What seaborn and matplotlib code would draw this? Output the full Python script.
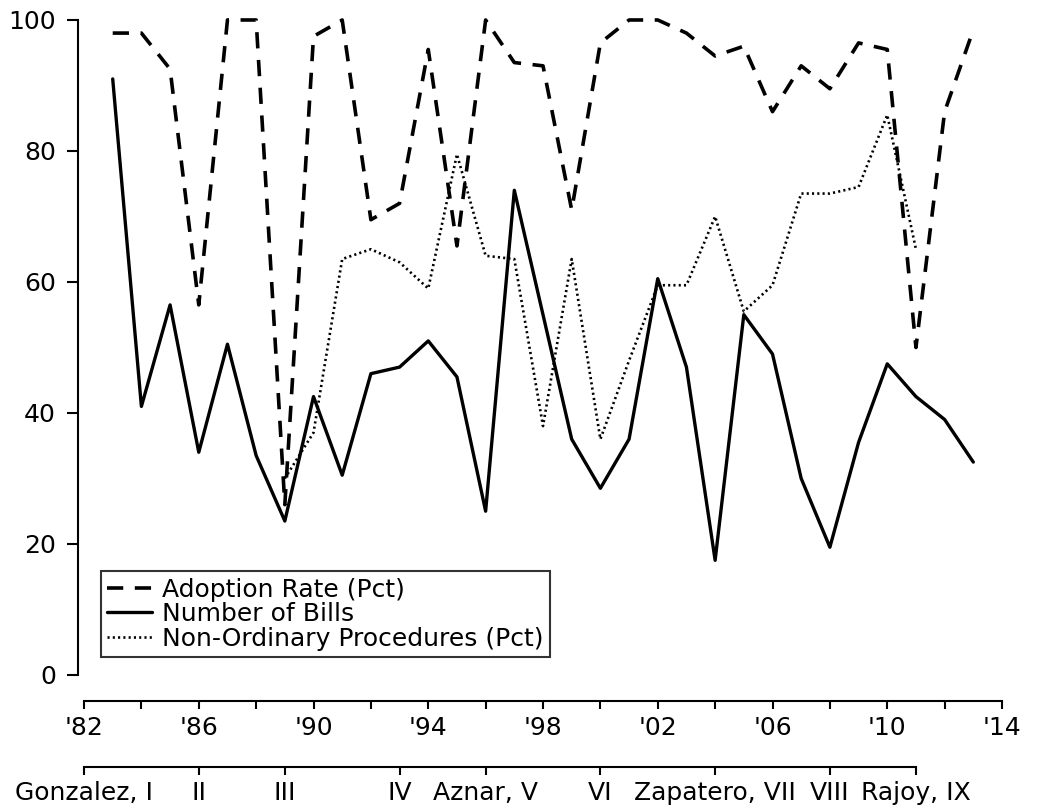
import numpy as np
import pandas as pd
import matplotlib
matplotlib.use("Agg")
import matplotlib.pyplot as plt
import seaborn as sns

# dados (1983-2013)
anos = list(range(1983, 2014))
adoption_rate = [98, 98, 92.5, 56.5, 100, 100, 26, 97.5, 100, 69.5, 72, 95.5, 65.5, 100,
                 93.5, 93, 71, 96.5, 100, 100, 98, 94.5, 96, 86, 93, 89.5, 96.5, 95.5,
                 50, 86, 98.5]
number_of_bills = [91, 41, 56.5, 34, 50.5, 33.5, 23.5, 42.5, 30.5, 46, 47, 51, 45.5, 25,
                   74, 55, 36, 28.5, 36, 60.5, 47, 17.5, 55, 49, 30, 19.5, 35.5, 47.5,
                   42.5, 39, 32.5]
non_ordinary = [np.nan] * 6 + [30, 37, 63.5, 65, 63, 59, 79.5, 64, 63.5, 38, 63.5, 36, 48,
                               59.5, 59.5, 70, 55.5, 59.5, 73.5, 73.5, 74.5, 85.5, 65] + [np.nan] * 2

# eixo dos anos
anos_ticks = list(range(1982, 2015, 2))
anos_labels = ["'82", "", "'86", "", "'90", "", "'94", "", "'98", "", "'02", "", "'06", "",
               "'10", "", "'14"]

# legislaturas
gov_anos = [1982, 1986, 1989, 1993, 1996, 2000, 2004, 2008, 2011]
gov_labels = ["Gonzalez, I", "II", "III", "IV", "Aznar, V", "VI", "Zapatero, VII", "VIII",
              "Rajoy, IX"]

df = pd.DataFrame({
    'ano': anos,
    'adoption': adoption_rate,
    'bills': number_of_bills,
    'nonord': non_ordinary,
})

sns.set_style("ticks")
plt.rcParams['font.family'] = ['DejaVu Sans']
plt.rcParams['text.color'] = 'black'
plt.rcParams['axes.edgecolor'] = 'black'
plt.rcParams['xtick.color'] = 'black'
plt.rcParams['ytick.color'] = 'black'
plt.rcParams['axes.labelcolor'] = 'black'

fig = plt.figure(figsize=(10.41, 8.09), dpi=100)
ax = fig.add_axes([0.0752, 0.1576, 0.8956, 0.8258])

sns.lineplot(data=df, x='ano', y='adoption', ax=ax, color='black', lw=2.6,
             linestyle=(0, (4.5, 3.2)), label='Adoption Rate (Pct)', clip_on=False)
sns.lineplot(data=df, x='ano', y='bills', ax=ax, color='black', lw=2.4,
             label='Number of Bills', clip_on=False)
sns.lineplot(data=df, x='ano', y='nonord', ax=ax, color='black', lw=1.9,
             linestyle=(0, (0.8, 1.2)), label='Non-Ordinary Procedures (Pct)', clip_on=False)

ax.set_xlim(1981.8, 2014.3)
ax.set_ylim(-1, 101)
ax.set_xlabel('')
ax.set_ylabel('')

# eixo y
ax.set_yticks([0, 20, 40, 60, 80, 100])
ax.spines['left'].set_bounds(0, 100)
ax.spines['left'].set_linewidth(1.5)
ax.tick_params(axis='y', length=8, width=1.5, pad=8, labelsize=18)

# eixo x (anos)
for s in ['top', 'right']:
    ax.spines[s].set_visible(False)
ax.spines['bottom'].set_position(('outward', 14))
ax.spines['bottom'].set_bounds(1982, 2014)
ax.spines['bottom'].set_linewidth(1.5)
ax.set_xticks(anos_ticks)
ax.set_xticklabels(anos_labels)
ax.tick_params(axis='x', length=6, width=1.5, pad=5, labelsize=18)

# eixo x secundário (legislaturas)
sec = ax.secondary_xaxis(-0.128)
sec.set_xticks(gov_anos)
sec.set_xticklabels(gov_labels)
sec.spines['bottom'].set_bounds(1982, 2011)
sec.spines['bottom'].set_linewidth(1.5)
sec.tick_params(axis='x', length=6, width=1.5, pad=4, labelsize=18)

leg = ax.legend(loc='lower left', bbox_to_anchor=(0.024, 0.037), borderaxespad=0,
                fontsize=18, frameon=True, fancybox=False, edgecolor='black',
                handlelength=1.8, handletextpad=0.4, labelspacing=0.02,
                borderpad=0.25)
leg.get_frame().set_linewidth(1.5)

plt.savefig('out.png', dpi=100)
